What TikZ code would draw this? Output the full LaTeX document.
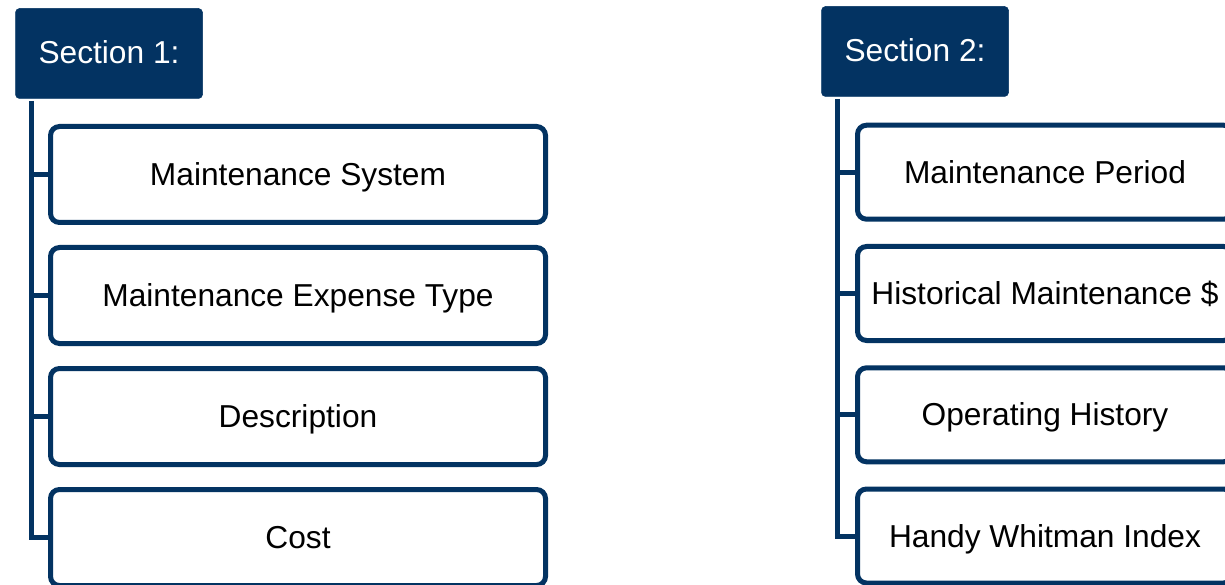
\documentclass[tikz,border=0pt]{standalone}
\usepackage{fontspec}
\setmainfont{Liberation Sans}
\definecolor{navy}{RGB}{3,51,98}
\tikzset{
  header/.style={fill=navy, draw=navy, line width=0.5pt, rounded corners=4pt, text=white,
    minimum width=187pt, minimum height=90pt, inner sep=0pt, text height=22pt, text depth=2pt,
    font=\fontsize{31.7}{38}\selectfont},
  itembox/.style={fill=white, draw=navy, line width=5pt, rounded corners=9pt, text=black,
    inner sep=0pt, text height=22pt, text depth=0pt, font=\fontsize{31.7}{38}\selectfont},
  itemA/.style={itembox, minimum width=495pt, minimum height=96pt},
  itemB/.style={itembox, minimum width=375pt, minimum height=94pt},
  conn/.style={draw=navy, line width=5pt, line join=miter}
}
\begin{document}
\begin{tikzpicture}[x=1pt,y=1pt]
\clip (0,0) rectangle (1225,-585);
\fill[white] (0,0) rectangle (1225,-585);
% Section 1
\node[header] (h1) at (109,-53.5) {Section 1:};
\node[itemA] (a1) at (298,-174.5) {Maintenance System};
\node[itemA] (a2) at (298,-295.5) {Maintenance Expense Type};
\node[itemA] (a3) at (298,-416.5) {Description};
\node[itemA] (a4) at (298,-537.5) {Cost};
\coordinate (s1) at (31.5,-101);
\draw[conn] (s1) |- (a4.west);
\foreach \b in {a1,a2,a3} \draw[conn] (s1 |- \b.west) -- (\b.west);
% Section 2
\node[header] (h2) at (915,-51.5) {Section 2:};
\node[itemB] (b1) at (1045,-172.2) {Maintenance Period};
\node[itemB] (b2) at (1045,-293.5) {Historical Maintenance \$};
\node[itemB] (b3) at (1045,-414.8) {Operating History};
\node[itemB] (b4) at (1045,-536) {Handy Whitman Index};
\coordinate (s2) at (837.5,-99);
\draw[conn] (s2) |- (b4.west);
\foreach \b in {b1,b2,b3} \draw[conn] (s2 |- \b.west) -- (\b.west);
\end{tikzpicture}
\end{document}
